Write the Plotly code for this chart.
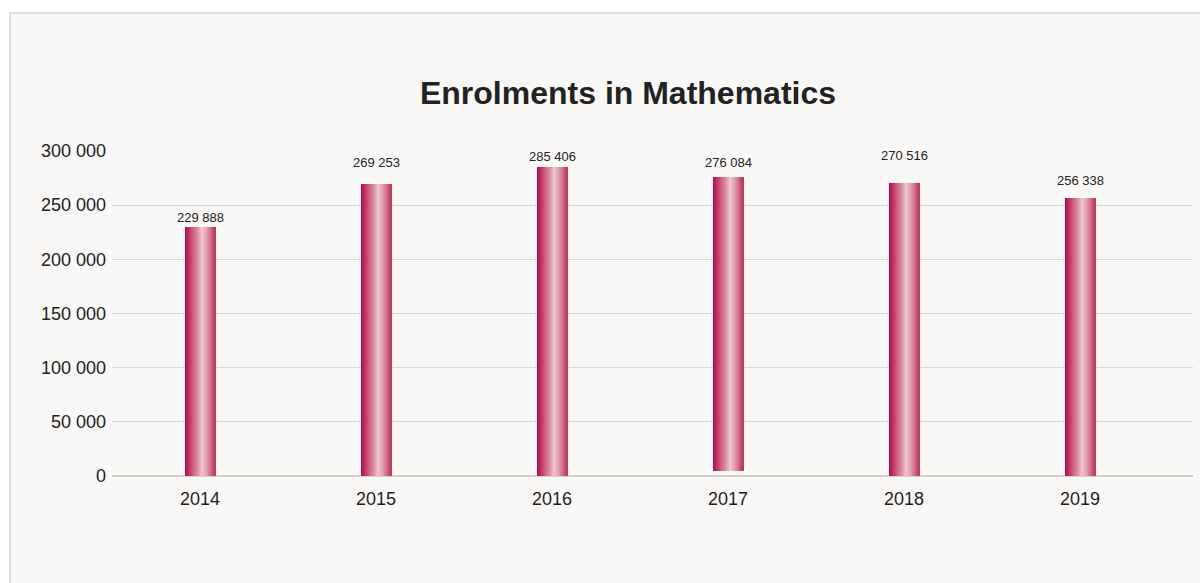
import plotly.graph_objects as go

# Enrolment counts per year
years = ["2014", "2015", "2016", "2017", "2018", "2019"]
enrolments = [229888, 269253, 285406, 276084, 270516, 256338]
bar_base = [0, 0, 0, 4500, 0, 0]

# vertical offset (px) of each value label above its bar
label_lift = [9, 22, 10, 14, 27, 18]

FONT = "Liberation Sans, Arial, Helvetica, sans-serif"
TEXT = "#222222"

# horizontal gradient stops for the bar fill: (position, rgb)
stops = [
    (0.00, (176, 16, 74)),
    (0.20, (198, 66, 108)),
    (0.58, (238, 202, 207)),
    (0.80, (212, 126, 148)),
    (1.00, (186, 54, 94)),
]


def grad(t):
    for (t0, c0), (t1, c1) in zip(stops[:-1], stops[1:]):
        if t0 <= t <= t1:
            f = (t - t0) / (t1 - t0)
            return "rgb({},{},{})".format(*[round(a + (b - a) * f) for a, b in zip(c0, c1)])
    return "rgb({},{},{})".format(*stops[-1][1])


BAR_W = 0.176
N = 28
step = BAR_W / N

fig = go.Figure()
heights = [v - b for v, b in zip(enrolments, bar_base)]
for i in range(N):
    fig.add_trace(go.Bar(
        x=years,
        y=heights,
        base=bar_base,
        width=BAR_W - i * step,
        offset=-BAR_W / 2 + i * step,
        marker=dict(color=grad((i + 0.5) / N), line=dict(width=0)),
        hoverinfo="skip" if i else "x+y",
        showlegend=False,
    ))

# value labels, placed by category index
for idx, (v, lift) in enumerate(zip(enrolments, label_lift)):
    fig.add_annotation(
        x=idx, y=v, xref="x", yref="y",
        text=f"{v:,}".replace(",", " "),
        showarrow=False, yanchor="middle", yshift=lift,
        font=dict(family=FONT, size=13, color=TEXT),
    )

# framed panel behind the chart
fig.add_shape(
    type="rect", xref="paper", yref="paper",
    x0=(10 - 112) / 1081, x1=1.2, y0=-0.6, y1=(476 - 13) / 325,
    fillcolor="#f9f8f6", line=dict(color="#d7d4ce", width=1.5), layer="below",
)

fig.update_layout(
    width=1200, height=583,
    margin=dict(l=112, r=7, t=151, b=107),
    paper_bgcolor="#ffffff",
    plot_bgcolor="rgba(0,0,0,0)",
    barmode="overlay",
    bargap=0, bargroupgap=0,
    separators=". ",
    title=dict(
        text="<b>Enrolments in Mathematics</b>",
        font=dict(family=FONT, size=32, color=TEXT),
        xref="container", yref="container",
        x=628 / 1200, y=1 - 93 / 583, xanchor="center", yanchor="middle",
    ),
    xaxis=dict(
        type="category", range=[-0.5, 5.642],
        showgrid=False, zeroline=False, showline=False,
        tickfont=dict(family=FONT, size=18, color=TEXT),
        ticks="", ticklabelstandoff=10,
    ),
    yaxis=dict(
        range=[0, 300000], tickvals=[0, 50000, 100000, 150000, 200000, 250000, 300000],
        tickformat=",d",
        showgrid=True, gridcolor="#d9d6d0", gridwidth=1,
        zeroline=True, zerolinecolor="#d3cfc8", zerolinewidth=2,
        showline=False, ticks="",
        tickfont=dict(family=FONT, size=18, color=TEXT),
        ticklabelstandoff=5,
    ),
    font=dict(family=FONT, color=TEXT),
)

fig.write_html("out.html")
